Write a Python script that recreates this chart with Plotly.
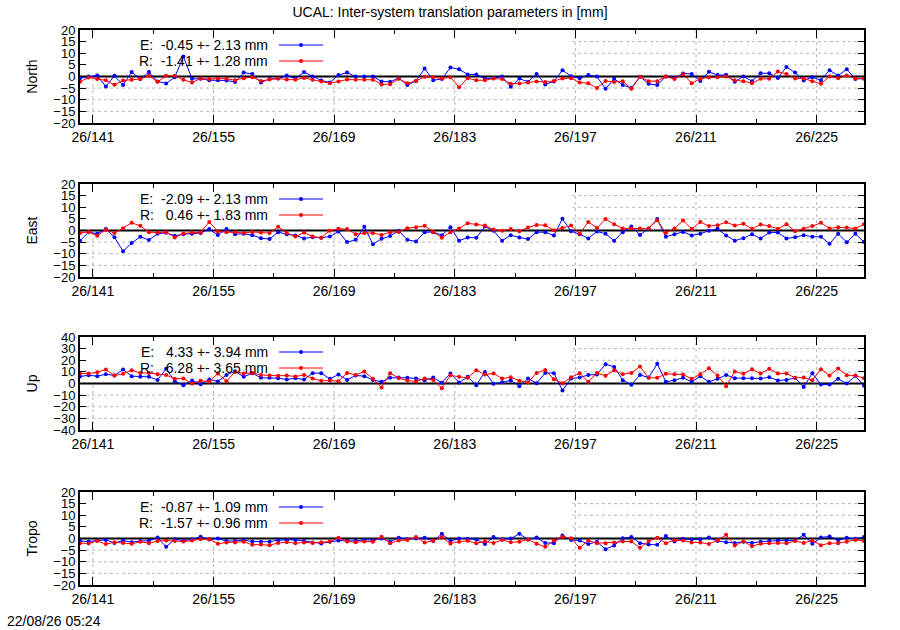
import plotly.graph_objects as go
from plotly.subplots import make_subplots

# page / layout (gnuplot-like, pixel based)
WIDTH, HEIGHT = 900, 630
MARGIN = dict(l=80, r=36, t=30, b=45)
FONT = "Liberation Sans, Arial, sans-serif"
GRID_COLOR = "#b8b8b8"
E_COLOR = "#0000ff"
R_COLOR = "#ff0000"

TITLE = "UCAL: Inter-system translation parameters in [mm]"
TIMESTAMP = "22/08/26 05:24"

# one solution per day (mid-day epoch), doy 139.5 .. 230.5
DAYS = [d + 0.5 for d in range(139, 231)]
XTICK_VALS = [141, 155, 169, 183, 197, 211, 225]
XTICK_TEXT = ["26/141", "26/155", "26/169", "26/183", "26/197", "26/211", "26/225"]

PANELS = ["North", "East", "Up", "Tropo"]
Y_LIMITS = [20, 20, 40, 20]
Y_STEPS = [5, 5, 10, 5]
PANEL_TOPS = [30, 184, 337, 492]  # px
PANEL_HEIGHT = 93  # px

E_LABELS = ["E:  -0.45 +- 2.13 mm", "E:  -2.09 +- 2.13 mm",
            "E:   4.33 +- 3.94 mm", "E:  -0.87 +- 1.09 mm"]
R_LABELS = ["R:  -1.41 +- 1.28 mm", "R:   0.46 +- 1.83 mm",
            "R:   6.28 +- 3.65 mm", "R:  -1.57 +- 0.96 mm"]

NORTH_E = [-0.7, 0, 0.4, -4.3, 0.3, -3.7, 1.9, -1.1, 1.9, -2.1, -3, -0.3, 8.6, -1, -1, -1.6,
           -1.6, -1.7, -2.4, 1.7, 1.1, -2.6, -1.1, -0.9, 0.4, -0.9, 1.9, 0, -1.7, -2.6, 0.6, 1.7,
           0, 0, 0, -2.1, -2.3, -0.7, -3.7, -1.9, 3.4, -1.6, -1.1, 3.9, 3.1, 0.9, 0.9, -1,
           -0.7, 0, -4.4, -0.9, -2.3, 1.1, -3.4, -2.1, 2.7, 0.1, -0.7, 0.6, 0, -5.3, -1,
           -3.7, -4.9, -0.1, -3.1, -3.7, 0, -0.7, 1.3, 1.1, -1.9, 2, 0.6, 0.7, -2.3, 0,
           -2, 1.4, 1.4, -0.6, 4.1, 1.7, -1.7, -0.3, -1.6, 2.7, 0.4, 3.1, -1.1, -0.9]
NORTH_R = [-2.3, -0.4, -1.1, -1.6, -3.6, -1.7, -1.4, -1.1, 0.3, -2.3, 0.3, 0.3, -1.4, -2.6, -0.9, -1.1,
           -0.9, -1, -1.6, -0.7, -0.3, -1.9, -1.3, -0.9, -1.3, -1.4, -0.6, -1.4, -2.1, -2.9, -2.1, -1.3,
           -1.4, -1.4, -1.4, -3.4, -3.3, -1, -2.9, -1.9, -0.1, -0.3, -0.9, -0.3, -4.6, -0.7, -1.6, -1.6,
           -0.9, -1.1, -3.1, -3, -2.6, -2.1, -2.4, -1.9, -0.9, -0.7, -2.6, -2.9, -5, -1.9, -2.4,
           -2, -5.3, -0.1, -2, -2, 0, -1.1, 1, -2.9, -1, -0.4, -0.3, 0, -1.6, -2,
           -2.9, -1, -1, 2.1, 1.1, -0.9, -0.9, -2, -3.1, 0, -0.7, 0.4, -0.9, -0.9]

EAST_E = [-4.4, -0.7, -1.4, 0.6, -2.9, -8.9, -5.4, -2.7, -4.1, -1.4, -1, -2.3, -1.6, -1.4, -1.1, 0.6,
          -1.9, 0.6, -1.6, -1.4, -2, -3.3, -3.7, -0.7, -1.6, -2.1, -3.4, -2.9, -3.1, -2.6, -0.4, -5,
          -4, 1.6, -5.9, -3.6, -2.4, -0.1, -4, -4.7, -0.7, -0.7, -2, 1.4, -4.4, -3,
          -3.1, 1.7, -0.1, -4.4, -2, -3, -3.7, -0.7, -0.7, -2.1, 5, -0.3, -1.6, -3.4, -0.4, -1.4,
          -4.4, -0.7, 1.7, -1.9, 0.9, 4.9, -2.7, -1.6, -0.6, -2.1, -1.4, -0.1, 0.7, -2.1, -4.4, -3.3,
          -1.6, -3.4, -0.9, -0.9, -3.4, -2.9, -2, -2.7, -2.7, -5.7, -1.4, -5.1, -1.4, -5]
EAST_R = [-1.1, -0.6, -2.3, 0.3, -1.1, 1, 3.3, 2, -0.7, -0.9, -0.7, -3, -1.3, -0.9, -0.9, 3.7,
          -0.4, -0.7, -0.7, -1.1, -0.6, -0.9, -1.1, 1.6, -1.1, -2.6, -0.9, -2.6, -3.1, -0.1, 0.7, 0.6,
          -1.6, -1.1, -1.1, -1.9, -0.7, -0.6, 1, 1.4, 2, -0.6, -3.1, -0.7, 0.9, 3.1,
          2.6, 2.1, 0.4, -0.1, 0.6, -0.3, 1.3, 2.4, 2.3, 0.1, 1.1, 2.1, -1.4, 3.7, 1.1, 4.9,
          2.7, 0.9, 0.9, 0.9, 0.9, 4.4, -1.1, 0.9, 4.3, 0.6, 3.7, 1.9, 2.3, 3.6, 2.1, 2.9,
          0.7, 2.6, 1.9, 0.7, 2.7, -0.3, 0.7, 1.9, 3.3, 0.9, 1.4, 1.3, 0.9, 2.7]

UP_E = [6, 7.1, 6.3, 8, 6.9, 12, 6.3, 5.7, 5.7, 3.1, 12.6, 2, -1.4, 2.6, -0.6, 3.4,
        1.7, 7.4, 10.6, 5.7, 8.9, 4.9, 4.9, 4.6, 3.4, 4.6, 3.4, 8.9, 8.9, 4, 7.7, 3.1,
        6.9, 6.3, 3.1, 1.4, 4.9, 5.1, 4.9, 4.3, 2.9, 5.1, 0.6, 8.6, 0.9, 5.7,
        -1.4, 10, -0.3, 1.1, 2.6, -2.3, 4.3, 0.3, 9.1, 8.9, -6, 4.3, 5.1, 7.4, 7.7, 16.6,
        14.3, 2.9, -1.1, 7.4, 5.1, 16.9, 1.4, 2.9, 4.9, 1.4, 6.3, 1.4, 4, 7.4, 4.6, 4.6,
        4.6, 4.3, 5.4, 2.6, 3.1, 4.9, -3.1, 8.9, -0.9, -0.9, 4, 0, 6.6, -2]
UP_R = [8.6, 8.6, 9.7, 12, 6.9, 8.3, 11.4, 9.1, 9.1, 8, 7.4, 4, 4.3, 0, 2.3, 1.7,
        8.6, 2, 10, 8.6, 9.1, 7.4, 6.9, 6.6, 6.9, 6, 7.4, 4.3, 2.3, 2.6, 2, 9.1,
        7.4, 10.3, 4, -3.4, 8.9, 4.6, 2.6, 1.7, 4.3, 3.1, -4, 7.1, 5.7, 5,
        11.4, 7.7, 8.6, 4.3, 5.4, 2.3, 0.9, 9.1, 11.7, 3.7, 0.3, 5.4, 8.9, 1.4, 9.1, 6.6,
        11.4, 8, 9.1, 14.6, 4.9, 4.9, 8.3, 8, 7.7, 4, 8, 13.1, 6.9, -2.3, 10.3, 8.3,
        12.3, 8.6, 12.6, 8.6, 8.6, 4.9, 5.1, 2.9, 12.3, 6.9, 12.9, 7.1, 6.9, 4.6]

TROPO_E = [-1.1, -1.3, -0.9, -0.6, -1.9, -0.9, -1.6, -1.1, -1, 0.4, -3.6, -0.3, -1, -0.4, 0.7, -0.4,
           0, -1.1, -1.1, -0.7, -1.3, -1.4, -1.4, -0.7, -0.7, -0.6, -1.1, -1.7, -2.1, -1.4, -0.9, -1,
           -1, -0.6, -0.7, 0, -1.4, 0.3, -0.3, 0, 0.3, -1.1, 2, -1.1, 0, -0.1,
           -0.4, -2.4, 0.6, -0.3, 0, 2, -0.4, 0.4, -1.9, -2, 1.3, -0.6, -0.9, -2.4, -1.4, -4.6,
           -3, 0.1, 0.6, -2, -2.6, -2.7, 1.1, -1.3, -0.1, -0.4, -0.3, 0.4, -1.1, -1.6, -1.9, -1.4,
           -1.9, -1.4, -1, -0.9, -0.9, -0.9, 1.6, -2.3, 0.4, 0.9, -0.7, 0.3, -0.1, 0.6]
TROPO_R = [-2, -2.1, -1.1, -2.4, -1.6, -1.9, -2.3, -1.4, -2, -1.1, -0.9, -1.1, -1.3, -0.9, -0.3, -0.3,
           -2.3, -1.7, -1.7, -1.4, -2.7, -2.6, -2.9, -1.9, -1.6, -2, -1.7, -1.9, -1.6, -1.3, 0.3, -1.3,
           -1.6, -1.3, -1.4, 0.7, -2, -0.9, -0.6, 0.6, -1.7, -1, 0.6, -2.1, -1.4, -1,
           -2, -1.3, -1.9, -0.6, -1.6, -1.4, -0.4, -2.3, -3.6, -0.9, 0.7, 0.1, -4, -0.9, -2, -2,
           -1.7, -1.3, -1.3, -4, -1.1, 0.3, -2, -0.7, -0.9, -1.7, -1.7, -2.4, -0.7, 1.6, -3, -1.3,
           -3.3, -2.3, -2, -1.9, -2, -1.1, -1.9, -0.9, -2.9, -2, -2, -1.4, -0.6, -1.1]

E_SERIES = [NORTH_E, EAST_E, UP_E, TROPO_E]
R_SERIES = [NORTH_R, EAST_R, UP_R, TROPO_R]


def px_x(x):
    """pixel column -> paper x"""
    return (x - MARGIN["l"]) / (WIDTH - MARGIN["l"] - MARGIN["r"])


def px_y(y):
    """pixel row -> paper y"""
    return (HEIGHT - MARGIN["b"] - y) / (HEIGHT - MARGIN["t"] - MARGIN["b"])


def nbsp(text):
    return text.replace(" ", "\u00a0")


def main():
    fig = make_subplots(rows=4, cols=1)
    grid = dict(color=GRID_COLOR, width=1, dash="dot")

    for i, name in enumerate(PANELS):
        row = i + 1
        ax = "" if i == 0 else str(row)
        xdom, ydom = "x%s domain" % ax, "y%s domain" % ax
        lim, step = Y_LIMITS[i], Y_STEPS[i]
        top = PANEL_TOPS[i]

        for series, color in ((E_SERIES[i], E_COLOR), (R_SERIES[i], R_COLOR)):
            fig.add_trace(go.Scatter(x=DAYS, y=series, mode="lines+markers",
                                     line=dict(color=color, width=1),
                                     marker=dict(color=color, size=4),
                                     showlegend=False, hoverinfo="skip"),
                          row=row, col=1)

        # dotted grid (as shapes so the opaque key box can sit on top of it)
        for v in range(-lim + step, lim, step):
            if v != 0:
                fig.add_shape(type="line", xref=xdom, yref="y" + ax, x0=0, x1=1,
                              y0=v, y1=v, line=grid, layer="below")
        for t in XTICK_VALS:
            fig.add_shape(type="line", xref="x" + ax, yref=ydom, x0=t, x1=t,
                          y0=0, y1=1, line=grid, layer="below")

        # opaque key box hides the grid in the upper left, then the zero axis
        fig.add_shape(type="rect", xref=xdom, yref="y" + ax,
                      x0=0, x1=0.628, y0=0, y1=lim,
                      fillcolor="white", line=dict(width=0), layer="below")
        fig.add_shape(type="line", xref=xdom, yref="y" + ax,
                      x0=0, x1=1, y0=0, y1=0,
                      line=dict(color="black", width=2), layer="below")

        # key entries: text, then sample line with a point
        for k, (label, color) in enumerate(((E_LABELS[i], E_COLOR), (R_LABELS[i], R_COLOR))):
            ypos = px_y(top + 15 + k * 16)
            fig.add_annotation(x=px_x(270), y=ypos, xref="paper", yref="paper",
                               text=nbsp(label), showarrow=False, xanchor="right",
                               yanchor="middle", font=dict(size=14, color="black", family=FONT))
            fig.add_shape(type="line", xref="paper", yref="paper",
                          x0=px_x(279), x1=px_x(323), y0=ypos, y1=ypos,
                          line=dict(color=color, width=1))
            fig.add_shape(type="circle", xref="paper", yref="paper",
                          x0=px_x(299), x1=px_x(303),
                          y0=ypos - 2 / (HEIGHT - MARGIN["t"] - MARGIN["b"]),
                          y1=ypos + 2 / (HEIGHT - MARGIN["t"] - MARGIN["b"]),
                          fillcolor=color, line=dict(color=color, width=0))

        fig.update_xaxes(range=[DAYS[0], DAYS[-1]], tickmode="array",
                         tickvals=XTICK_VALS, ticktext=XTICK_TEXT,
                         ticks="inside", ticklen=8, tickcolor="black",
                         showline=True, linecolor="black", linewidth=2, mirror="allticks",
                         showgrid=False, zeroline=False,
                         minor=dict(ticks="inside", ticklen=4, tickcolor="black",
                                    tick0=141, dtick=7, showgrid=False),
                         tickfont=dict(size=14, color="black", family=FONT),
                         showticklabels=True, row=row, col=1)
        fig.update_yaxes(range=[-lim, lim], tickmode="linear", tick0=0, dtick=step,
                         ticks="inside", ticklen=6, tickcolor="black",
                         showline=True, linecolor="black", linewidth=2, mirror="allticks",
                         showgrid=False, zeroline=False,
                         tickfont=dict(size=13, color="black", family=FONT),
                         title=dict(text=name, standoff=12,
                                    font=dict(size=14, color="black", family=FONT)),
                         domain=[px_y(top + PANEL_HEIGHT), px_y(top)],
                         row=row, col=1)

    fig.add_annotation(x=px_x(5), y=px_y(621), xref="paper", yref="paper",
                       text=TIMESTAMP, showarrow=False, xanchor="left", yanchor="middle",
                       font=dict(size=14, color="black", family=FONT))

    fig.update_layout(
        width=WIDTH, height=HEIGHT, margin=MARGIN,
        paper_bgcolor="white", plot_bgcolor="white",
        font=dict(family=FONT, size=14, color="black"),
        title=dict(text=TITLE, x=0.5, xanchor="center", y=1 - 12 / HEIGHT, yanchor="middle",
                   font=dict(size=14, color="black", family=FONT)),
        showlegend=False,
    )

    # the page body has a default margin; drop it so the figure sits at 0,0
    fig.write_html("out.html", config={"displayModeBar": False},
                   post_script="document.body.style.margin='0';")


if __name__ == "__main__":
    main()
